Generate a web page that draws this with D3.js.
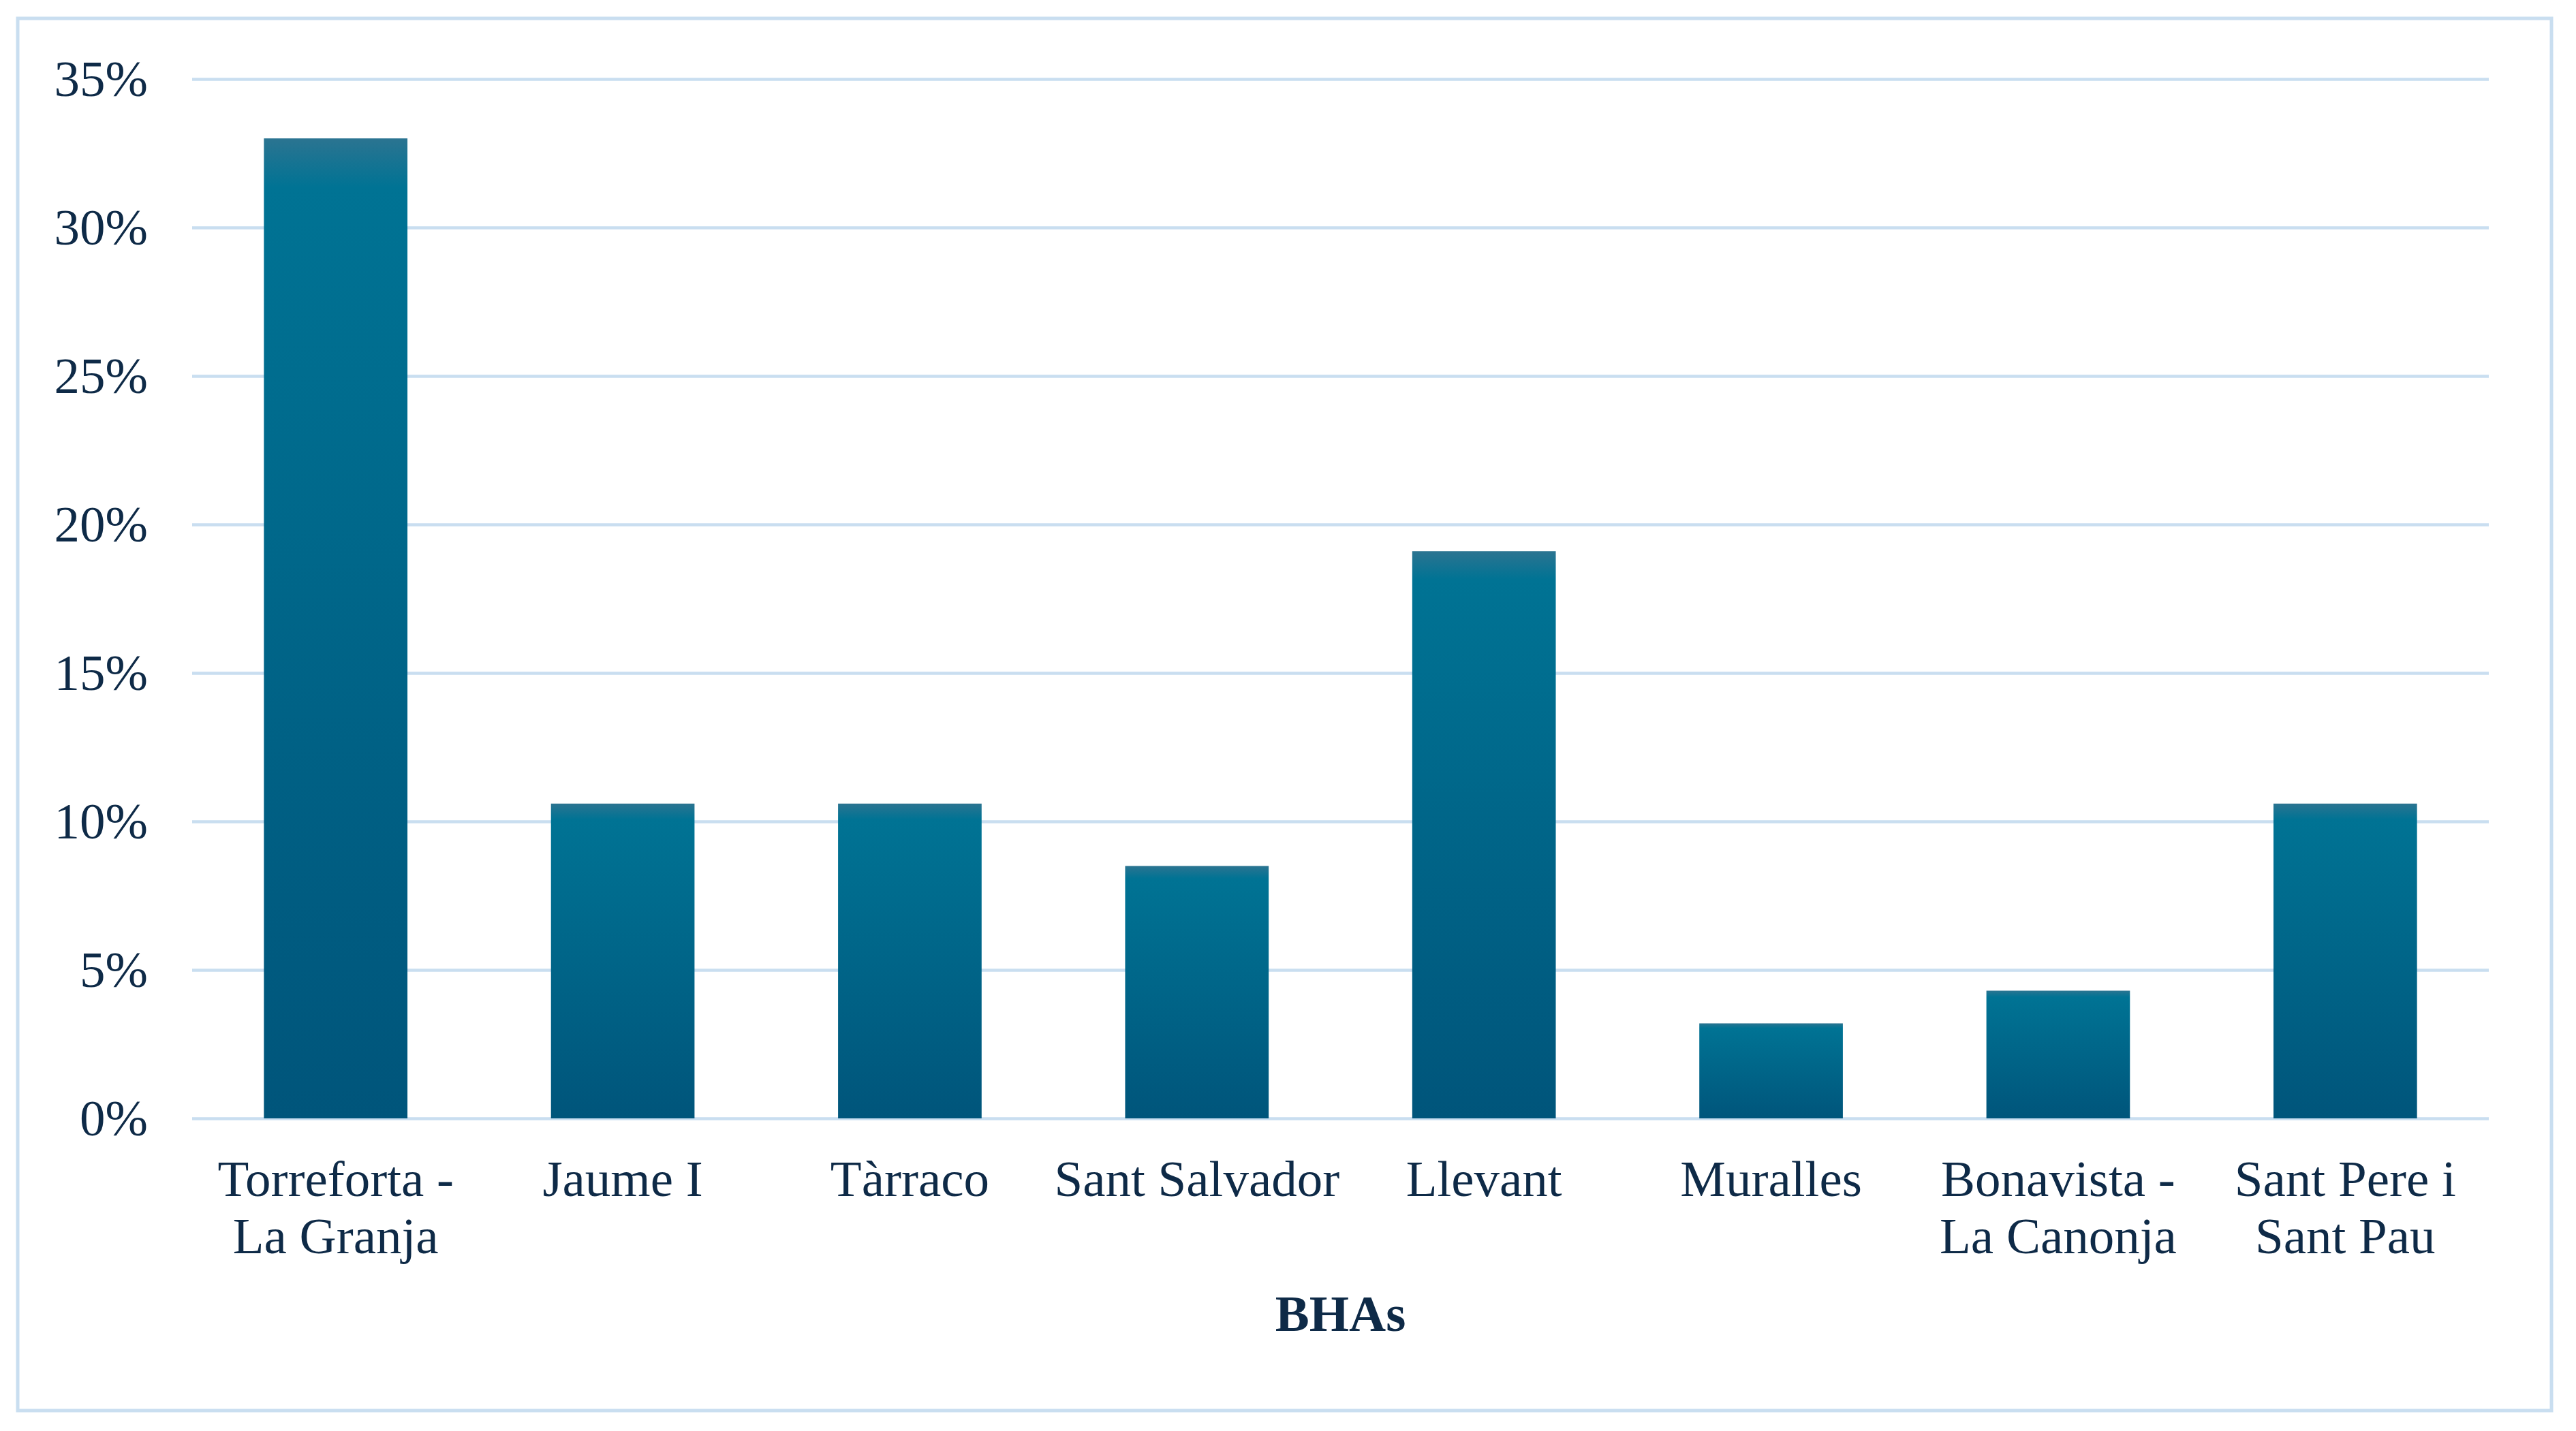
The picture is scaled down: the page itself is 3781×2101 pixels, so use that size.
<!DOCTYPE html>
<html>
<head>
<meta charset="utf-8">
<script src="https://cdn.jsdelivr.net/npm/d3@7"></script>
<style>
  html, body { margin: 0; padding: 0; background: #ffffff; }
  svg { display: block; }
</style>
</head>
<body>
<script>
const categories = [
  ["Torreforta -", "La Granja"],
  ["Jaume I"],
  ["Tàrraco"],
  ["Sant Salvador"],
  ["Llevant"],
  ["Muralles"],
  ["Bonavista -", "La Canonja"],
  ["Sant Pere i", "Sant Pau"]
];
const values = [0.33, 0.106, 0.106, 0.085, 0.191, 0.032, 0.043, 0.106];
const yTicks = [0, 0.05, 0.10, 0.15, 0.20, 0.25, 0.30, 0.35];
const xTitle = "BHAs";

const W = 3781, H = 2101;
const margin = { left: 282, right: W - 3653, top: 116, bottom: H - 1642 };
const textColor = "#0e2a47";
const gridColor = "#c9def0";

const svg = d3.select("body").append("svg")
  .attr("width", W).attr("height", H)
  .style("font-family", "'Liberation Serif', 'Times New Roman', serif");

svg.append("rect").attr("width", W).attr("height", H).attr("fill", "#ffffff");

// outer border
svg.append("rect")
  .attr("x", 26).attr("y", 27)
  .attr("width", 3745 - 26).attr("height", 2071 - 27)
  .attr("fill", "none").attr("stroke", gridColor).attr("stroke-width", 5);

const defs = svg.append("defs");
const grad = defs.append("linearGradient")
  .attr("id", "barGrad").attr("x1", 0).attr("y1", 0).attr("x2", 0).attr("y2", 1);
grad.append("stop").attr("offset", 0).attr("stop-color", "#2b7491");
grad.append("stop").attr("offset", 0.05).attr("stop-color", "#007394");
grad.append("stop").attr("offset", 1).attr("stop-color", "#00557b");

const x = d3.scaleBand()
  .domain(d3.range(categories.length))
  .range([margin.left, W - margin.right])
  .paddingInner(0.5).paddingOuter(0.25);

const y = d3.scaleLinear()
  .domain([0, 0.35])
  .range([H - margin.bottom, margin.top]);

// gridlines
const yAxis = d3.axisLeft(y)
  .tickValues(yTicks)
  .tickSize(-(W - margin.left - margin.right))
  .tickPadding(65)
  .tickFormat(d => Math.round(d * 100) + "%");

const gy = svg.append("g")
  .attr("transform", `translate(${margin.left},0)`)
  .call(yAxis);
gy.select(".domain").remove();
gy.selectAll(".tick line")
  .attr("stroke", gridColor).attr("stroke-width", 4.5);
gy.selectAll(".tick text")
  .attr("fill", textColor)
  .style("font-size", "75px")
  .style("font-family", "'Liberation Serif', 'Times New Roman', serif");

// bars
svg.append("g").selectAll("rect")
  .data(values)
  .join("rect")
  .attr("x", (d, i) => x(i))
  .attr("width", x.bandwidth())
  .attr("y", d => y(d))
  .attr("height", d => y(0) - y(d))
  .attr("fill", "url(#barGrad)");

// x labels
const xl = svg.append("g");
categories.forEach((lines, i) => {
  const t = xl.append("text")
    .attr("x", x(i) + x.bandwidth() / 2)
    .attr("y", 1756)
    .attr("text-anchor", "middle")
    .attr("fill", textColor)
    .style("font-size", "75px");
  lines.forEach((ln, j) => {
    t.append("tspan")
      .attr("x", x(i) + x.bandwidth() / 2)
      .attr("y", 1756 + j * 84)
      .text(ln);
  });
});

// axis title
svg.append("text")
  .attr("x", (margin.left + W - margin.right) / 2)
  .attr("y", 1954)
  .attr("text-anchor", "middle")
  .attr("fill", textColor)
  .style("font-size", "75px")
  .style("font-weight", "bold")
  .text(xTitle);
</script>
</body>
</html>
